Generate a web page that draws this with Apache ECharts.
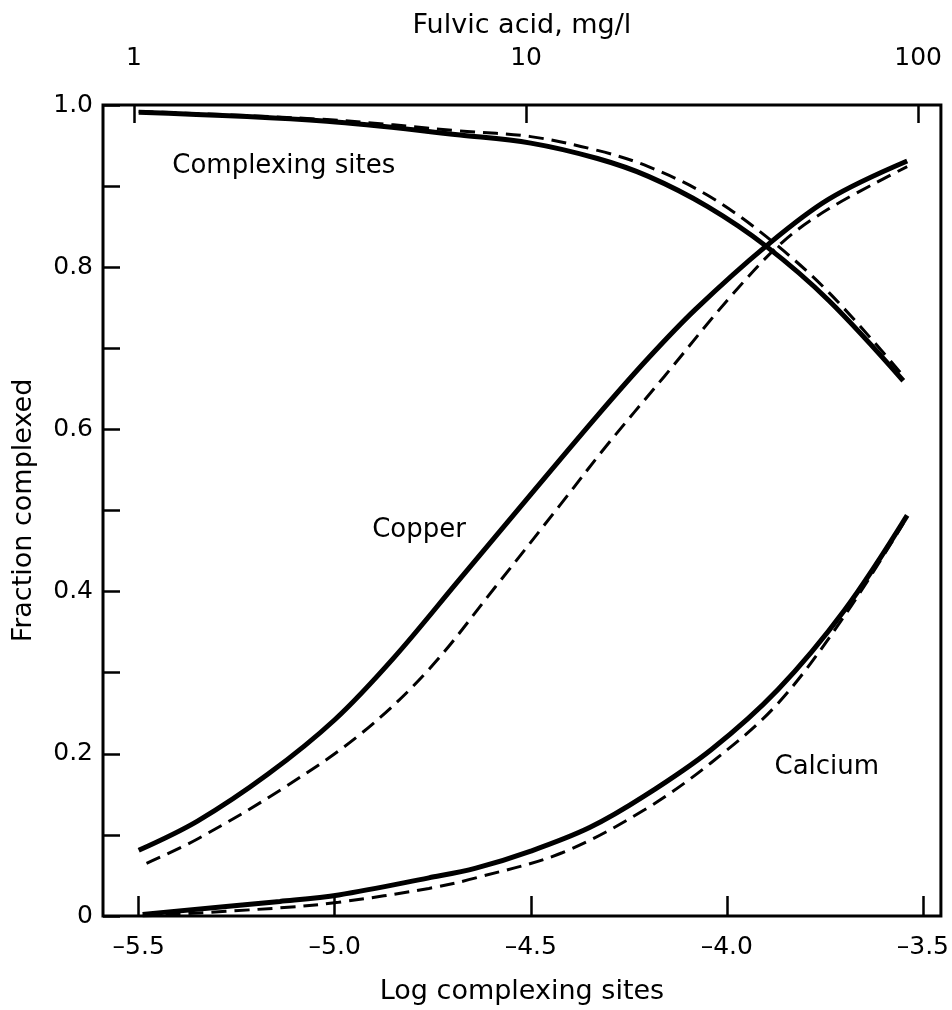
<!DOCTYPE html>
<html>
<head>
<meta charset="utf-8">
<title>Fraction complexed</title>
<script src="https://cdn.jsdelivr.net/npm/echarts@6/dist/echarts.min.js"></script>
<style>
  html, body { margin: 0; padding: 0; background: #fff; }
  #chart { width: 952px; height: 1010px; }
</style>
</head>
<body>
<div id="chart"></div>
<script>
// log complexing sites (bottom axis) ticks
var siteTicks = [-5.5, -5.0, -4.5, -4.0, -3.5];
// fulvic acid, mg/l (top axis, log) ticks
var fulvicTicks = [1, 10, 100];
// log10(fulvic mg/l) = log sites + offset
var fulvicOffset = 5.512;

// [log complexing sites, fraction complexed]
var copperSolid = [
    [-5.50, 0.081], [-5.35, 0.117], [-5.17, 0.175], [-5.00, 0.242], [-4.85, 0.318],
    [-4.68, 0.416], [-4.51, 0.514], [-4.33, 0.617], [-4.20, 0.688], [-4.08, 0.748],
    [-3.90, 0.826], [-3.74, 0.884], [-3.54, 0.931]
];
var copperDashed = [
    [-5.48, 0.065], [-5.35, 0.095], [-5.13, 0.158], [-4.93, 0.226], [-4.76, 0.304],
    [-4.59, 0.406], [-4.42, 0.510], [-4.31, 0.578], [-4.16, 0.665], [-3.99, 0.764],
    [-3.86, 0.830], [-3.74, 0.872], [-3.54, 0.924]
];
var sitesSolid = [
    [-5.50, 0.991], [-5.02, 0.980], [-4.68, 0.963], [-4.50, 0.953], [-4.33, 0.934],
    [-4.20, 0.912], [-4.05, 0.875], [-3.90, 0.826], [-3.74, 0.759], [-3.55, 0.660]
];
var sitesDashed = [
    [-5.50, 0.992], [-5.02, 0.982], [-4.68, 0.968], [-4.50, 0.961], [-4.33, 0.944],
    [-4.20, 0.924], [-4.05, 0.889], [-3.90, 0.838], [-3.74, 0.769], [-3.55, 0.666]
];
var calciumSolid = [
    [-5.49, 0.002], [-5.14, 0.018], [-4.99, 0.026], [-4.76, 0.047], [-4.64, 0.059],
    [-4.50, 0.080], [-4.35, 0.109], [-4.21, 0.148], [-4.04, 0.205], [-3.87, 0.279],
    [-3.70, 0.377], [-3.54, 0.494]
];
var calciumDashed = [
    [-5.49, 0.000], [-5.14, 0.010], [-4.99, 0.017], [-4.76, 0.034], [-4.64, 0.047],
    [-4.42, 0.078], [-4.21, 0.131], [-4.04, 0.189], [-3.87, 0.262], [-3.70, 0.370],
    [-3.55, 0.484]
];
// curve labels placed in data space
var curveLabels = [
    ['Complexing sites', -5.13, 0.925],
    ['Copper', -4.785, 0.476],
    ['Calcium', -3.745, 0.183]
];

var xMin = -5.591, xMax = -3.454;
var ink = '#000';
var font = 'DejaVu Sans';

function dash(v) {
    return v.toFixed(1).replace('-', '\u2013');
}

function curve(name, data, dashed) {
    return {
        name: name,
        type: 'line',
        data: data,
        smooth: 0.35,
        showSymbol: false,
        silent: true,
        lineStyle: {
            color: ink,
            width: dashed ? 3 : 5,
            type: dashed ? [15, 8] : 'solid',
            cap: 'butt'
        },
        z: dashed ? 3 : 2
    };
}

var chart = echarts.init(document.getElementById('chart'));

var option = {
    backgroundColor: '#fff',
    animation: false,
    textStyle: { fontFamily: font, color: ink },
    grid: {
        left: 103, right: 7, top: 105, bottom: 90,
        show: true, borderColor: ink, borderWidth: 3, backgroundColor: 'transparent'
    },
    xAxis: [
        {
            type: 'value',
            position: 'bottom',
            min: xMin, max: xMax,
            name: 'Log complexing sites',
            nameLocation: 'middle',
            nameGap: 62,
            nameTextStyle: { fontSize: 27, color: ink, fontFamily: font },
            axisLine: { show: false, onZero: false },
            splitLine: { show: false },
            axisTick: {
                inside: true, length: 20, customValues: siteTicks,
                lineStyle: { color: ink, width: 2.5 }
            },
            axisLabel: {
                customValues: siteTicks, margin: 19, fontSize: 25, color: ink,
                fontFamily: font, formatter: dash
            }
        },
        {
            type: 'value',
            position: 'top',
            min: xMin + fulvicOffset, max: xMax + fulvicOffset,
            name: 'Fulvic acid, mg/l',
            nameLocation: 'middle',
            nameGap: 66,
            nameTextStyle: { fontSize: 27, color: ink, fontFamily: font },
            axisLine: { show: false, onZero: false },
            splitLine: { show: false },
            axisTick: {
                inside: true, length: 18, customValues: fulvicTicks.map(Math.log10),
                lineStyle: { color: ink, width: 2.5 }
            },
            axisLabel: {
                customValues: fulvicTicks.map(Math.log10), margin: 34, fontSize: 25, color: ink,
                fontFamily: font,
                formatter: function (v) { return String(Math.round(Math.pow(10, v))); }
            }
        }
    ],
    yAxis: {
        type: 'value',
        min: 0, max: 1, interval: 0.2,
        name: 'Fraction complexed',
        nameLocation: 'middle',
        nameGap: 66,
        nameTextStyle: { fontSize: 27, color: ink, fontFamily: font },
        axisLine: { show: false, onZero: false },
        splitLine: { show: false },
        axisTick: { inside: true, length: 17, lineStyle: { color: ink, width: 2.5 } },
        minorTick: { show: true, splitNumber: 2, length: 17, lineStyle: { color: ink, width: 2.5 } },
        axisLabel: {
            margin: 10, fontSize: 25, color: ink, fontFamily: font,
            formatter: function (v) { return v === 0 ? '0' : v.toFixed(1); }
        }
    },
    series: [
        curve('Complexing sites', sitesSolid, false),
        curve('Complexing sites (dashed)', sitesDashed, true),
        curve('Copper', copperSolid, false),
        curve('Copper (dashed)', copperDashed, true),
        curve('Calcium', calciumSolid, false),
        curve('Calcium (dashed)', calciumDashed, true),
        {
            type: 'scatter',
            silent: true,
            symbolSize: 0,
            itemStyle: { opacity: 1 },
            data: curveLabels.map(function (d) { return { name: d[0], value: [d[1], d[2]] }; }),
            label: {
                show: true,
                position: 'inside',
                formatter: '{b}',
                fontSize: 26,
                fontFamily: font,
                color: ink,
                opacity: 1
            }
        }
    ]
};

chart.setOption(option);
</script>
</body>
</html>
